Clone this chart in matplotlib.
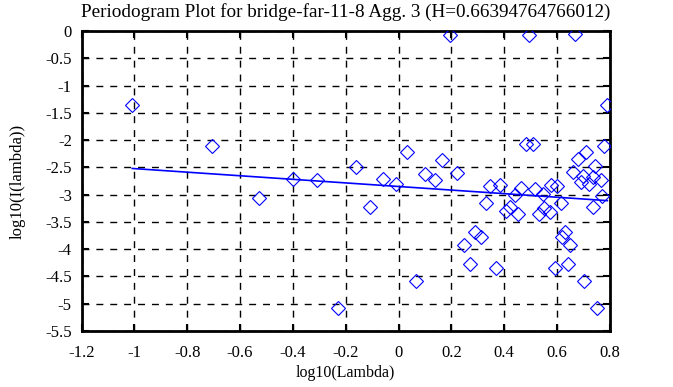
import matplotlib
matplotlib.use("Agg")
import matplotlib.pyplot as plt

# periodogram points (log10 lambda, log10 I(lambda))
log_lambda = [
    -1.008, -0.705, -0.529, -0.401, -0.309, -0.163, -0.107, -0.058, -0.008,
    -0.231, 0.032, 0.067, 0.101, 0.137, 0.166, 0.196, 0.221,
    0.246, 0.269, 0.288, 0.313, 0.332, 0.347, 0.370, 0.382, 0.405, 0.423,
    0.439, 0.451, 0.464, 0.483, 0.493, 0.508, 0.515, 0.531, 0.546, 0.552,
    0.574, 0.578, 0.590, 0.600, 0.613, 0.619, 0.628, 0.640, 0.650, 0.659,
    0.668, 0.678, 0.691, 0.697, 0.701, 0.710, 0.722, 0.735, 0.735, 0.745,
    0.752, 0.767, 0.770, 0.779, 0.788,
]
log_I = [
    -1.35, -2.11, -3.06, -2.72, -2.74, -2.49, -3.23, -2.71, -2.81,
    -5.07, -2.22, -4.58, -2.63, -2.74, -2.36, -0.07, -2.60,
    -3.93, -4.28, -3.69, -3.78, -3.16, -2.84, -4.35, -2.83, -3.30, -3.23,
    -3.00, -3.36, -2.87, -2.08, -0.07, -2.08, -2.89, -3.36, -2.98, -3.24,
    -3.32, -2.83, -4.35, -2.85, -3.16, -3.78, -3.69, -4.28, -3.93, -2.59,
    -0.06, -2.34, -2.77, -2.65, -4.58, -2.21, -2.80, -2.68, -3.22, -2.48,
    -5.07, -2.73, -3.03, -2.11, -1.35,
]

# least squares fit line
fit_x = [-1.008, 0.79]
fit_y = [-2.52, -3.11]

plt.rcParams["font.family"] = "Liberation Serif"
plt.rcParams["font.size"] = 12

fig = plt.figure(figsize=(6.73, 3.87), dpi=100)
ax = fig.add_axes([81.5 / 673, 1 - 331 / 387, (610 - 81.5) / 673, 300 / 387])

ax.plot(log_lambda, log_I, ls="none", marker="D", ms=7, mfc="none",
        mec="blue", mew=0.8, zorder=3)
ax.plot(fit_x, fit_y, color="blue", lw=1.2, zorder=3)

ax.set_xlim(-1.2, 0.8)
ax.set_ylim(-5.5, 0)
ax.set_xticks([-1.2, -1, -0.8, -0.6, -0.4, -0.2, 0, 0.2, 0.4, 0.6, 0.8])
ax.set_xticklabels(["-1.2", "-1", "-0.8", "-0.6", "-0.4", "-0.2", "0",
                    "0.2", "0.4", "0.6", "0.8"])
ax.set_yticks([0, -0.5, -1, -1.5, -2, -2.5, -3, -3.5, -4, -4.5, -5, -5.5])
ax.set_yticklabels(["0", "-0.5", "-1", "-1.5", "-2", "-2.5", "-3", "-3.5",
                    "-4", "-4.5", "-5", "-5.5"])
ax.tick_params(direction="in", length=5, width=1.5, top=True, right=True)
ax.tick_params(axis="x", pad=10)
ax.tick_params(axis="y", pad=7)
for s in ax.spines.values():
    s.set_linewidth(2)
ax.grid(True, color="black", ls=(0, (5, 5)), lw=1)
ax.set_axisbelow(True)

ax.set_xlabel("log10(Lambda)", fontsize=11.5, labelpad=3)
ax.set_ylabel("log10(I(lambda))", labelpad=14)
ax.set_title("Periodogram Plot for bridge-far-11-8 Agg. 3 (H=0.66394764766012)",
             fontsize=13.8, pad=10)

fig.savefig("out.png", dpi=100)
